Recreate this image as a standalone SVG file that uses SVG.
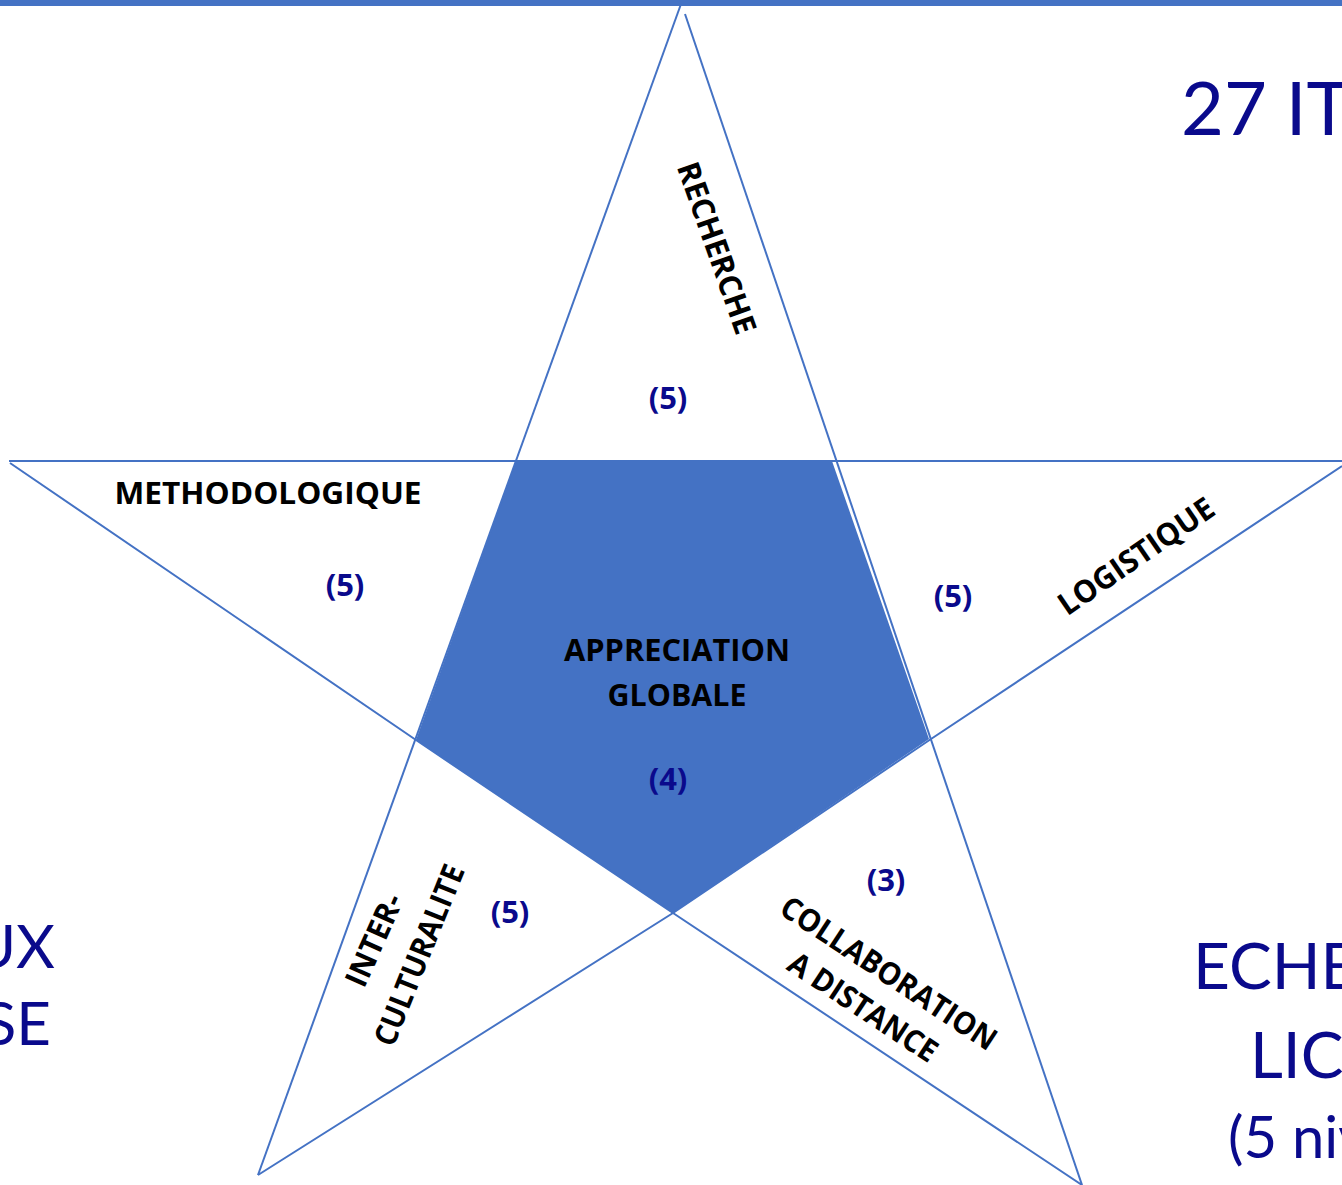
<svg xmlns="http://www.w3.org/2000/svg" width="1342" height="1185" viewBox="0 0 1342 1185">
<style>
.ln{stroke:#4472C4;stroke-width:2;fill:none}
.lbl{font-family:"Open Sans",Lato,"Liberation Sans",sans-serif;font-weight:bold;font-size:31px;fill:#000;text-anchor:middle}
.num{font-family:"Open Sans",Lato,"Liberation Sans",sans-serif;font-weight:bold;font-size:31px;fill:#0A0A8C;text-anchor:middle}
.big{font-family:Lato,"Liberation Sans",sans-serif;fill:#0A0A8C}
</style>
<rect x="0" y="0" width="1342" height="6" fill="#4472C4"/>
<g id="center">
<polygon points="516,461 832,461 929,739 673,913 416,740" fill="#4472C4"/>
<text class="lbl" x="677" y="661" textLength="226" lengthAdjust="spacingAndGlyphs">APPRECIATION</text>
<text class="lbl" x="677" y="706" textLength="139" lengthAdjust="spacingAndGlyphs">GLOBALE</text>
<text class="num" x="668" y="790">(4)</text>
</g>
<g id="connectors">
<line class="ln" x1="681" y1="4" x2="258" y2="1175"/>
<line class="ln" x1="685" y1="14" x2="1082" y2="1185"/>
<line class="ln" x1="9" y1="461" x2="1342" y2="461"/>
<polyline class="ln" points="10,463 416,740 673,913 1082,1185"/>
<polyline class="ln" points="1342,466 931,739 673,913 258,1175"/>
</g>
<g id="recherche">
<text class="lbl" transform="translate(717,248) rotate(70.5)" x="0" y="11" textLength="180" lengthAdjust="spacingAndGlyphs">RECHERCHE</text>
<text class="num" x="668" y="409">(5)</text>
</g>
<g id="methodologique">
<text class="lbl" x="268" y="504" textLength="307" lengthAdjust="spacingAndGlyphs">METHODOLOGIQUE</text>
<text class="num" x="345" y="596">(5)</text>
</g>
<g id="logistique">
<text class="lbl" transform="translate(1136,556) rotate(-34.5)" x="0" y="11" textLength="182" lengthAdjust="spacingAndGlyphs">LOGISTIQUE</text>
<text class="num" x="953" y="607">(5)</text>
</g>
<g id="interculturalite">
<text class="lbl" transform="translate(374,940) rotate(-66)" x="0" y="11" textLength="98" lengthAdjust="spacingAndGlyphs">INTER-</text>
<text class="lbl" transform="translate(419,955) rotate(-68)" x="0" y="11" textLength="192" lengthAdjust="spacingAndGlyphs">CULTURALITE</text>
<text class="num" x="510" y="923">(5)</text>
</g>
<g id="collaboration">
<text class="lbl" transform="translate(889,973) rotate(33.5)" x="0" y="11" textLength="252" lengthAdjust="spacingAndGlyphs">COLLABORATION</text>
<text class="lbl" transform="translate(863,1007) rotate(33.5)" x="0" y="11" textLength="172" lengthAdjust="spacingAndGlyphs">A DISTANCE</text>
<text class="num" x="886" y="891">(3)</text>
</g>
<g id="side-texts">
<text class="big" x="1181" y="135" font-size="74">27 IT</text>
<text class="big" x="55" y="968" font-size="60" text-anchor="end">UX</text>
<text class="big" x="51" y="1045" font-size="60" text-anchor="end">SE</text>
<text class="big" x="1193" y="989" font-size="64">ECHE</text>
<text class="big" x="1250" y="1078" font-size="64">LIC</text>
<text class="big" x="1228" y="1158" font-size="58">(5 niv</text>
</g>
</svg>
